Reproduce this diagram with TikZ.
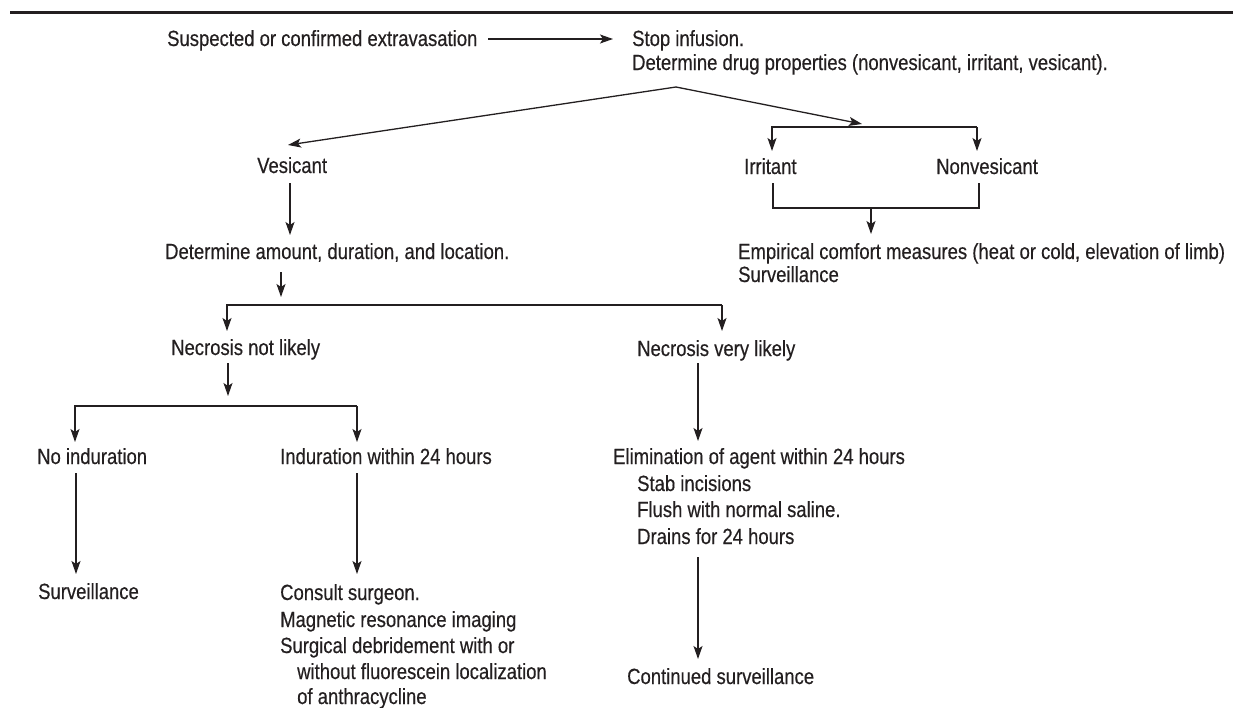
\documentclass[tikz,border=0pt]{standalone}
\usepackage{fontspec}
\setmainfont{Liberation Sans}[FakeStretch=0.84,FakeBold=0.4]
\usetikzlibrary{arrows.meta}
\definecolor{ink}{HTML}{231F20}
\begin{document}
\begin{tikzpicture}[x=1pt,y=-1pt,
  txt/.style={inner sep=0pt,anchor=base west,text=ink,font=\fontsize{22}{26}\selectfont},
  arr/.style={draw=ink,line width=1.3pt,-{Stealth[length=13pt,width=9pt,inset=3pt]}},
  ln/.style={draw=ink,line width=1.3pt}]
\useasboundingbox (0,0) rectangle (1233,707);
\draw[ink,line width=3pt] (10,12) -- (1233,12);

% text nodes
\node[txt] (susp) at (167,46) {Suspected or confirmed extravasation};
\node[txt] (stop) at (632,46) {Stop infusion.};
\node[txt] (props) at (632,70) {Determine drug properties (nonvesicant, irritant, vesicant).};
\node[txt] (ves) at (257,173) {Vesicant};
\node[txt] (irr) at (744,174) {Irritant};
\node[txt] (nonv) at (936,174) {Nonvesicant};
\node[txt] (emp) at (738,259) {Empirical comfort measures (heat or cold, elevation of limb)};
\node[txt] (empsurv) at (738,282) {Surveillance};
\node[txt] (amt) at (165,259) {Determine amount, duration, and location.};
\node[txt] (nnl) at (171,355) {Necrosis not likely};
\node[txt] (nvl) at (637,356) {Necrosis very likely};
\node[txt] (noind) at (37,464) {No induration};
\node[txt] (ind) at (280,464) {Induration within 24 hours};
\node[txt] (surv) at (38,599) {Surveillance};
\node[txt] (cons1) at (280,600) {Consult surgeon.};
\node[txt] (cons2) at (280,627) {Magnetic resonance imaging};
\node[txt] (cons3) at (280,653) {Surgical debridement with or};
\node[txt] (cons4) at (297,679) {without fluorescein localization};
\node[txt] (cons5) at (297,704) {of anthracycline};
\node[txt] (elim1) at (613,464) {Elimination of agent within 24 hours};
\node[txt] (elim2) at (637,491) {Stab incisions};
\node[txt] (elim3) at (637,517) {Flush with normal saline.};
\node[txt] (elim4) at (637,544) {Drains for 24 hours};
\node[txt] (cont) at (627,684) {Continued surveillance};

% connector points
\coordinate (a0) at (488,39);
\coordinate (a1) at (613,39);
\coordinate (apex) at (676,87);
\coordinate (vtip) at (288,145);
\coordinate (rtip) at (862,124);
\coordinate (b1l) at (772,127);
\coordinate (b1r) at (977,127);
\coordinate (irrtip) at (772,151);
\coordinate (nonvtip) at (977,151);
\coordinate (irrbot) at (773,183);
\coordinate (nonvbot) at (979,183);
\coordinate (b2l) at (773,208);
\coordinate (b2r) at (979,208);
\coordinate (b2m) at (871,208);
\coordinate (emptip) at (871,234);
\coordinate (vesbot) at (290,183);
\coordinate (amttop) at (290,235);
\coordinate (amtbot) at (281,272);
\coordinate (amttip) at (281,297);
\coordinate (b3l) at (227,305);
\coordinate (b3r) at (722,305);
\coordinate (nnltip) at (227,331);
\coordinate (nvltip) at (722,331);
\coordinate (nnlbot) at (228,363);
\coordinate (nnlarr) at (228,396);
\coordinate (b4l) at (75,406);
\coordinate (b4r) at (357,406);
\coordinate (noindtip) at (75,442);
\coordinate (indtip) at (357,442);
\coordinate (noindbot) at (76,473);
\coordinate (survtip) at (76,574);
\coordinate (indbot) at (357,473);
\coordinate (constip) at (357,574);
\coordinate (nvlbot) at (698,363);
\coordinate (elimtip) at (698,441);
\coordinate (elimbot) at (698,557);
\coordinate (conttip) at (698,659);

% connectors
\draw[arr] (a0) -- (a1);
\draw[arr] (apex) -- (vtip);
\draw[arr] (apex) -- (rtip);
\draw[arr] (b1r) -- (b1l) -- (irrtip);
\draw[arr] (b1r) -- (nonvtip);
\draw[ln] (irrbot) -- (b2l) -- (b2r) -- (nonvbot);
\draw[arr] (b2m) -- (emptip);
\draw[arr] (vesbot) -- (amttop);
\draw[arr] (amtbot) -- (amttip);
\draw[arr] (b3r) -- (b3l) -- (nnltip);
\draw[arr] (b3r) -- (nvltip);
\draw[arr] (nnlbot) -- (nnlarr);
\draw[arr] (b4r) -- (b4l) -- (noindtip);
\draw[arr] (b4r) -- (indtip);
\draw[arr] (noindbot) -- (survtip);
\draw[arr] (indbot) -- (constip);
\draw[arr] (nvlbot) -- (elimtip);
\draw[arr] (elimbot) -- (conttip);
\end{tikzpicture}
\end{document}
